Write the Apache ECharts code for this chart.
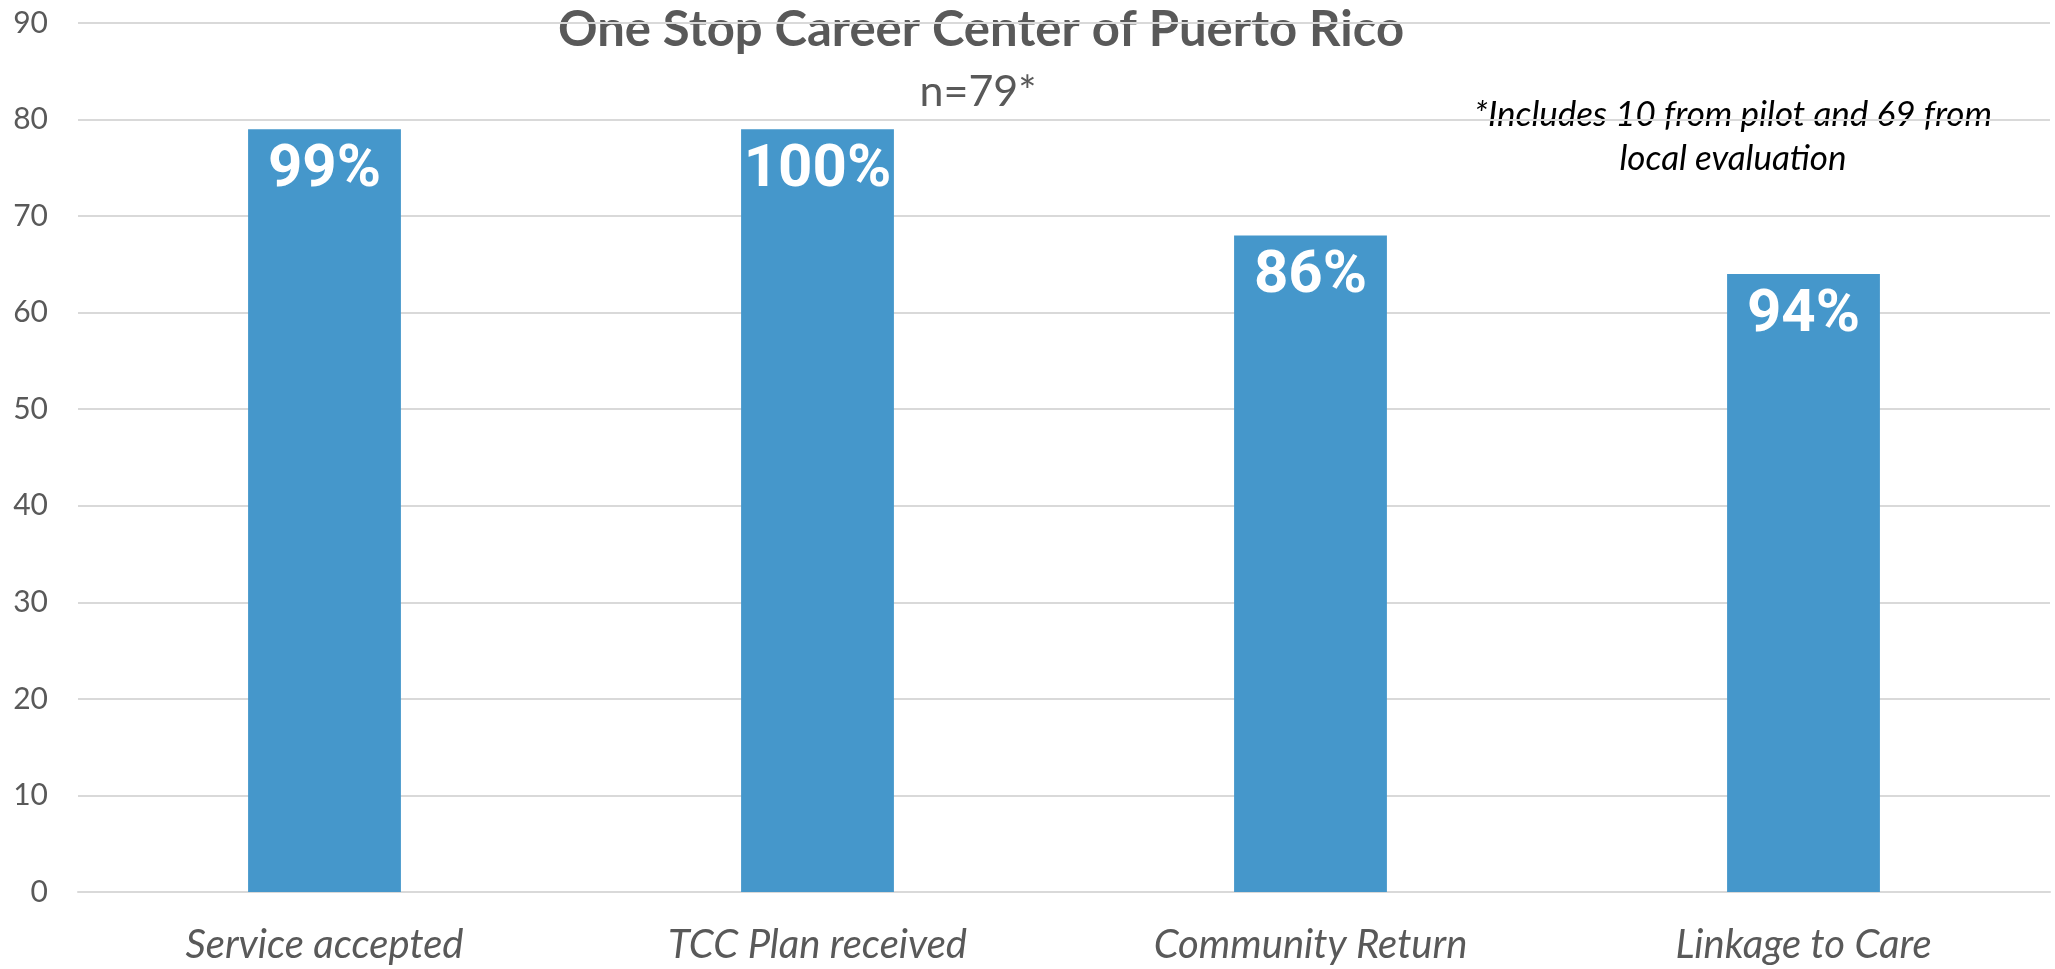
<!DOCTYPE html>
<html>
<head>
<meta charset="utf-8">
<title>One Stop Career Center of Puerto Rico</title>
<script src="https://cdn.jsdelivr.net/npm/echarts@6/dist/echarts.min.js"></script>
<style>
  html, body { margin: 0; padding: 0; background: #fff; }
  #chart { width: 2055px; height: 969px; }
</style>
</head>
<body>
<div id="chart"></div>
<script>
// categories and values
var categories = ['Service accepted', 'TCC Plan received', 'Community Return', 'Linkage to Care'];
var counts = [79, 79, 68, 64];
var percentLabels = ['99%', '100%', '86%', '94%'];

var yMin = 0, yMax = 90, yStep = 10;

var grey = '#595959';
var font = 'Lato, "Open Sans", sans-serif';

var myChart = echarts.init(document.getElementById('chart'));

var option = {
    backgroundColor: '#ffffff',
    animation: false,
    grid: { left: 78, right: 5, top: 23, bottom: 77, containLabel: false },
    xAxis: {
        type: 'category',
        data: categories,
        axisLine: { lineStyle: { color: '#d9d9d9', width: 2 } },
        axisTick: { show: false },
        axisLabel: {
            color: grey, fontSize: 40, fontStyle: 'italic', fontFamily: font, margin: 33
        }
    },
    yAxis: {
        type: 'value',
        min: yMin, max: yMax, interval: yStep,
        axisLine: { show: false },
        axisTick: { show: false },
        splitLine: { lineStyle: { color: '#d9d9d9', width: 2 } },
        axisLabel: { color: grey, fontSize: 30, fontFamily: font, margin: 30 }
    },
    series: [{
        type: 'bar',
        data: counts,
        barWidth: '31%',
        itemStyle: { color: '#4597cb' },
        label: {
            show: true,
            position: 'insideTop',
            distance: 12,
            color: '#ffffff',
            fontSize: 60,
            fontWeight: 'bold',
            fontFamily: 'Roboto, "Liberation Sans", sans-serif',
            formatter: function (p) { return percentLabels[p.dataIndex]; }
        }
    }],
    graphic: [
        {
            type: 'text', x: 981, y: 30,
            style: {
                text: 'One Stop Career Center of Puerto Rico',
                fill: grey, font: 'bold 49px ' + font,
                textAlign: 'center', textVerticalAlign: 'middle'
            }
        },
        {
            type: 'text', x: 978, y: 92,
            style: {
                text: 'n=79*',
                fill: grey, font: '43px ' + font,
                textAlign: 'center', textVerticalAlign: 'middle'
            }
        },
        {
            type: 'text', x: 1733, y: 137,
            style: {
                text: '*Includes 10 from pilot and 69 from\nlocal evaluation',
                fill: '#000000', font: 'italic 35px ' + font, lineHeight: 44,
                textAlign: 'center', textVerticalAlign: 'middle'
            }
        }
    ]
};

myChart.setOption(option);
</script>
</body>
</html>
